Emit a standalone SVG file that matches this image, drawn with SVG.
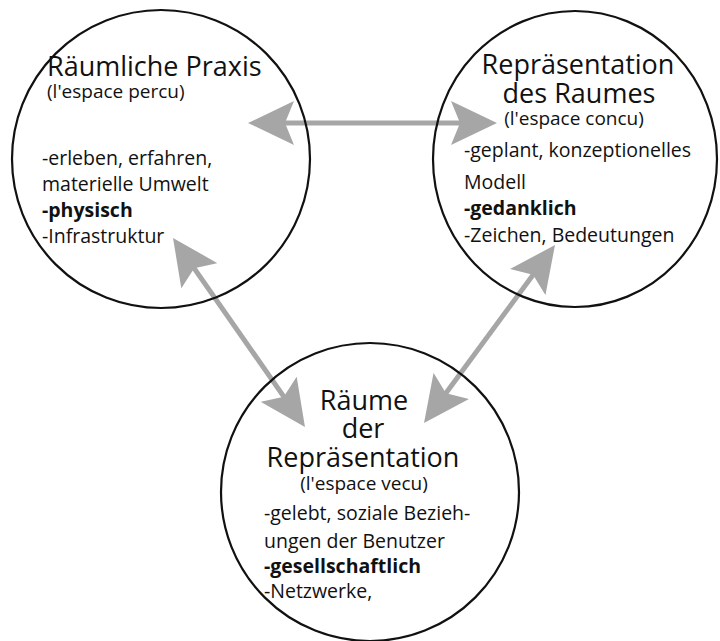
<svg xmlns="http://www.w3.org/2000/svg" width="720" height="641" viewBox="0 0 720 641">
<style>
.c{fill:none;stroke:#111;stroke-width:2.2}
text{font-family:"Open Sans","Noto Sans",sans-serif;fill:#111}
.h{font-size:27px}
.s{font-size:19px}
.b{font-size:19.5px}
.bb{font-size:19.5px;font-weight:bold}
.m{text-anchor:middle}
.a{stroke:#a6a6a6;stroke-width:5;fill:none;marker-start:url(#ah);marker-end:url(#ah)}
</style>
<defs>
<marker id="ah" markerUnits="userSpaceOnUse" viewBox="0 -22 46 44" refX="16" refY="0" markerWidth="46" markerHeight="44" orient="auto-start-reverse">
<path d="M46,0 L0,-22 L9,0 L0,22 Z" fill="#a6a6a6"/>
</marker>
</defs>
<rect width="720" height="641" fill="#fff"/>
<g id="connectors">
<line class="a" x1="278" y1="123" x2="467" y2="123"/>
<line class="a" x1="190.2" y1="262.6" x2="287.8" y2="402.4"/>
<line class="a" x1="537.2" y1="269.2" x2="441.8" y2="398.8"/>
</g>
<g id="praxis">
<circle class="c" cx="161" cy="159" r="149"/>
<text class="h" x="47" y="76">Räumliche Praxis</text>
<text class="s" x="47" y="98">(l'espace percu)</text>
<text class="b" x="42" y="165">-erleben, erfahren,</text>
<text class="b" x="42" y="191">materielle Umwelt</text>
<text class="bb" x="42" y="217">-physisch</text>
<text class="b" x="42" y="243">-Infrastruktur</text>
</g>
<g id="repraesentation-des-raumes">
<ellipse class="c" cx="575" cy="159" rx="142" ry="148"/>
<text class="h m" x="578" y="74">Repräsentation</text>
<text class="h m" x="579" y="103">des Raumes</text>
<text class="s m" x="574" y="125">(l'espace concu)</text>
<text class="b" x="464" y="157">-geplant, konzeptionelles</text>
<text class="b" x="464" y="189">Modell</text>
<text class="bb" x="464" y="215">-gedanklich</text>
<text class="b" x="464" y="242">-Zeichen, Bedeutungen</text>
</g>
<g id="raeume-der-repraesentation">
<circle class="c" cx="370" cy="492" r="149"/>
<text class="h m" x="364" y="410">Räume</text>
<text class="h m" x="363" y="438">der</text>
<text class="h m" x="363" y="467">Repräsentation</text>
<text class="s m" x="364" y="490">(l'espace vecu)</text>
<text class="b" x="264" y="520">-gelebt, soziale Bezieh-</text>
<text class="b" x="264" y="548">ungen der Benutzer</text>
<text class="bb" x="264" y="573">-gesellschaftlich</text>
<text class="b" x="264" y="598">-Netzwerke,</text>
</g>
</svg>
